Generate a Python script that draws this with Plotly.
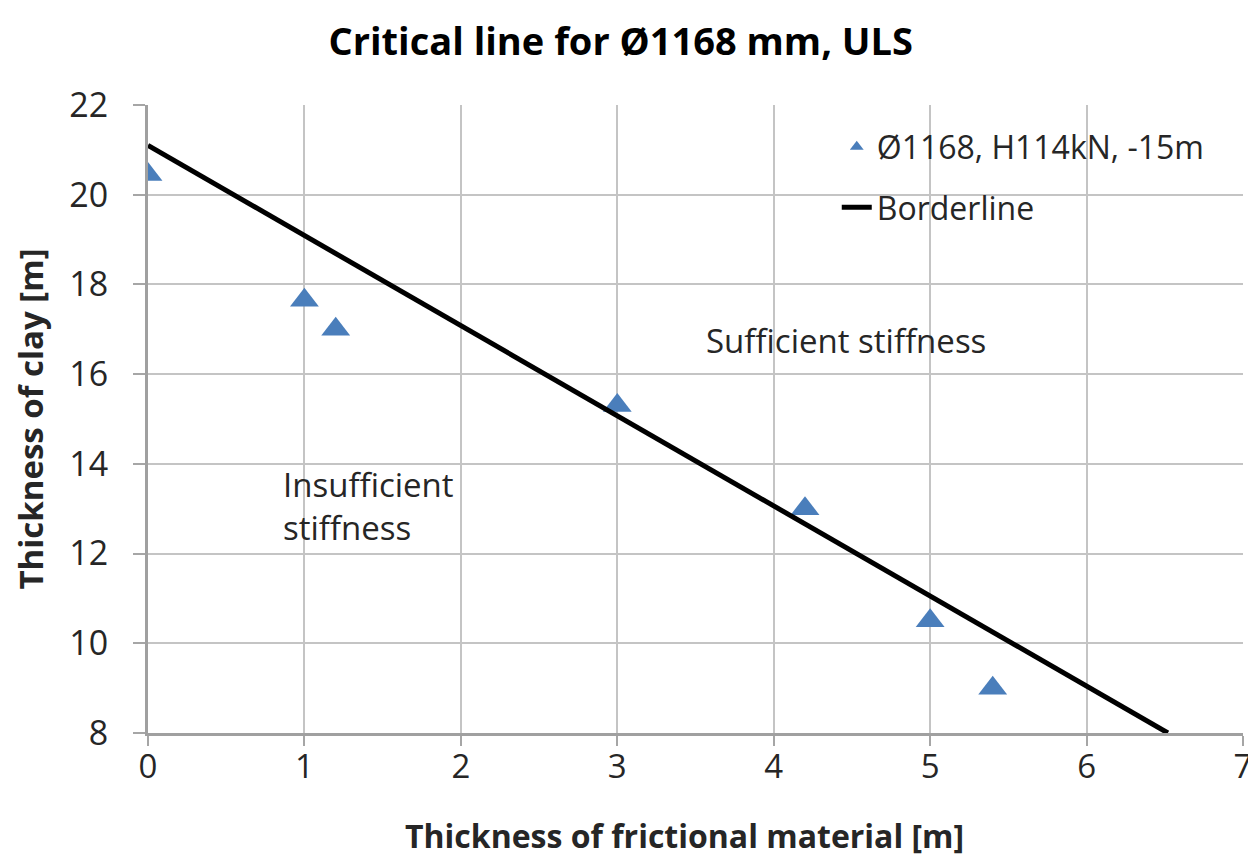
import plotly.graph_objects as go

# Data
pts_x = [0, 1, 1.2, 3, 4.2, 5, 5.4]
pts_y = [20.45, 17.65, 17.0, 15.3, 13.0, 10.5, 9.0]
line_x = [0, 6.52]
line_y = [21.1, 8.0]
x_ticks = [0, 1, 2, 3, 4, 5, 6, 7]
y_ticks = [8, 10, 12, 14, 16, 18, 20, 22]

FONT = "Open Sans"
TXT = "#262626"

fig = go.Figure()
fig.add_trace(go.Scatter(
    x=pts_x, y=pts_y, mode="markers", name="Ø1168, H114kN, -15m", legendgroup="a",
    marker=dict(symbol="triangle-up", size=25, color="#4a7ebb"),
))
fig.add_trace(go.Scatter(
    x=line_x, y=line_y, mode="lines", name="Borderline", legendgroup="b",
    line=dict(color="black", width=5),
))

fig.add_annotation(x=4.46, y=16.75, text="Sufficient stiffness", showarrow=False,
                   font=dict(family=FONT, size=33, color=TXT))
fig.add_annotation(x=0.85, y=13.05, text="Insufficient<br>stiffness", showarrow=False,
                   xanchor="left", align="left",
                   font=dict(family=FONT, size=33, color=TXT))
# x-axis title (placed as annotation to match the reference's horizontal offset)
fig.add_annotation(xref="paper", yref="paper", x=0.4895, y=-0.164, yanchor="middle",
                   text="<b>Thickness of frictional material [m]</b>", showarrow=False,
                   font=dict(family=FONT, size=32, color=TXT))

fig.update_layout(
    width=1248, height=850,
    margin=dict(l=140, r=13, t=97, b=125),
    paper_bgcolor="white", plot_bgcolor="white",
    title=dict(text="<b>Critical line for Ø1168 mm, ULS</b>", x=0.491, xanchor="center",
               y=1 - 34 / 850, yanchor="middle", font=dict(family=FONT, size=38, color="black")),
    font=dict(family=FONT, color=TXT),
    showlegend=True,
    legend=dict(x=0.629, y=0.977, xanchor="left", yanchor="top", bgcolor="rgba(255,255,255,0)",
                font=dict(family=FONT, size=32, color=TXT), traceorder="grouped",
                tracegroupgap=16, itemsizing="constant"),
)
fig.update_xaxes(
    range=[0, 7], tickvals=x_ticks, showgrid=True, gridcolor="#c4c4c4", gridwidth=2,
    zeroline=False, showline=True, linecolor="#a0a0a0", linewidth=3,
    ticks="outside", ticklen=10, tickcolor="#a6a6a6", tickwidth=2,
    ticklabelstandoff=-8,
    tickfont=dict(family=FONT, size=33, color=TXT), automargin=False,
)
fig.update_yaxes(
    range=[8, 22], tickvals=y_ticks, showgrid=True, gridcolor="#c4c4c4", gridwidth=2,
    zeroline=False, showline=True, linecolor="#a0a0a0", linewidth=3,
    ticks="outside", ticklen=12, tickcolor="#a6a6a6", tickwidth=2,
    ticklabelstandoff=18,
    tickfont=dict(family=FONT, size=34, color=TXT), automargin=False,
    title=dict(text="<b>Thickness of clay [m]</b>", font=dict(family=FONT, size=33, color=TXT), standoff=20),
)

fig.write_html("out.html")
